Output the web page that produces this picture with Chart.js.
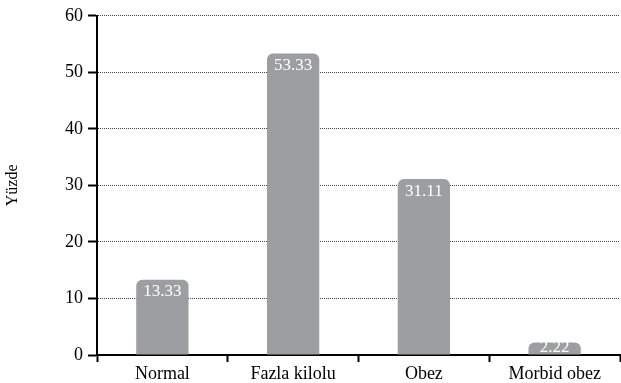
<!DOCTYPE html>
<html>
<head>
<meta charset="utf-8">
<script src="https://cdn.jsdelivr.net/npm/chart.js@4/dist/chart.umd.min.js"></script>
<style>
  html, body { margin: 0; padding: 0; background: #ffffff; }
  #wrap { width: 621px; height: 383px; position: relative; }
</style>
</head>
<body>
<div id="wrap"><canvas id="c" width="621" height="383"></canvas></div>
<script>
const categories = ['Normal', 'Fazla kilolu', 'Obez', 'Morbid obez'];
const percentages = [13.33, 53.33, 31.11, 2.22];
const yTicks = [0, 10, 20, 30, 40, 50, 60];

const FONT = '"Liberation Serif", "Times New Roman", serif';

// Writes each bar's value in white just inside its top edge
const valueLabels = {
  id: 'valueLabels',
  afterDatasetsDraw(chart) {
    const ctx = chart.ctx;
    const meta = chart.getDatasetMeta(0);
    const bottom = chart.chartArea.bottom;
    ctx.save();
    ctx.font = '17px ' + FONT;
    ctx.fillStyle = '#ffffff';
    ctx.textAlign = 'center';
    ctx.textBaseline = 'middle';
    meta.data.forEach((bar, i) => {
      const y = Math.min(bar.y + 12, bottom - 7);
      ctx.fillText(percentages[i].toFixed(2), bar.x, y);
    });
    ctx.restore();
  }
};

new Chart(document.getElementById('c'), {
  type: 'bar',
  data: {
    labels: categories,
    datasets: [{
      data: percentages,
      backgroundColor: '#9d9ea2',
      borderRadius: { topLeft: 6, topRight: 6, bottomLeft: 0, bottomRight: 0 },
      borderSkipped: 'bottom',
      barPercentage: 0.8,
      categoryPercentage: 0.5
    }]
  },
  options: {
    responsive: false,
    animation: false,
    layout: { padding: { top: 9, right: 1, left: 0, bottom: 0 } },
    plugins: { legend: { display: false }, tooltip: { enabled: false } },
    scales: {
      x: {
        grid: {
          offset: true,
          drawOnChartArea: false,
          drawTicks: true,
          tickLength: 7,
          tickColor: '#000000',
          tickWidth: 2
        },
        border: { display: true, color: '#000000', width: 2 },
        ticks: {
          color: '#000000',
          font: { family: FONT, size: 18 },
          padding: 1,
          maxRotation: 0
        },
        afterFit(scale) { scale.height = 28; }
      },
      y: {
        min: 0,
        max: 60,
        afterBuildTicks(scale) { scale.ticks = yTicks.map(v => ({ value: v })); },
        grid: {
          color: '#444444',
          lineWidth: 1,
          drawTicks: true,
          tickLength: 9,
          tickColor: '#000000',
          tickWidth: 2
        },
        border: { display: true, color: '#000000', width: 2, dash: [1, 1] },
        ticks: {
          color: '#000000',
          font: { family: FONT, size: 18 },
          padding: 5
        },
        title: {
          display: true,
          text: 'Yüzde',
          color: '#000000',
          font: { family: FONT, size: 16 },
          padding: { top: 3, bottom: 0 }
        },
        afterFit(scale) { scale.width = 97; }
      }
    }
  },
  plugins: [valueLabels]
});
</script>
</body>
</html>
